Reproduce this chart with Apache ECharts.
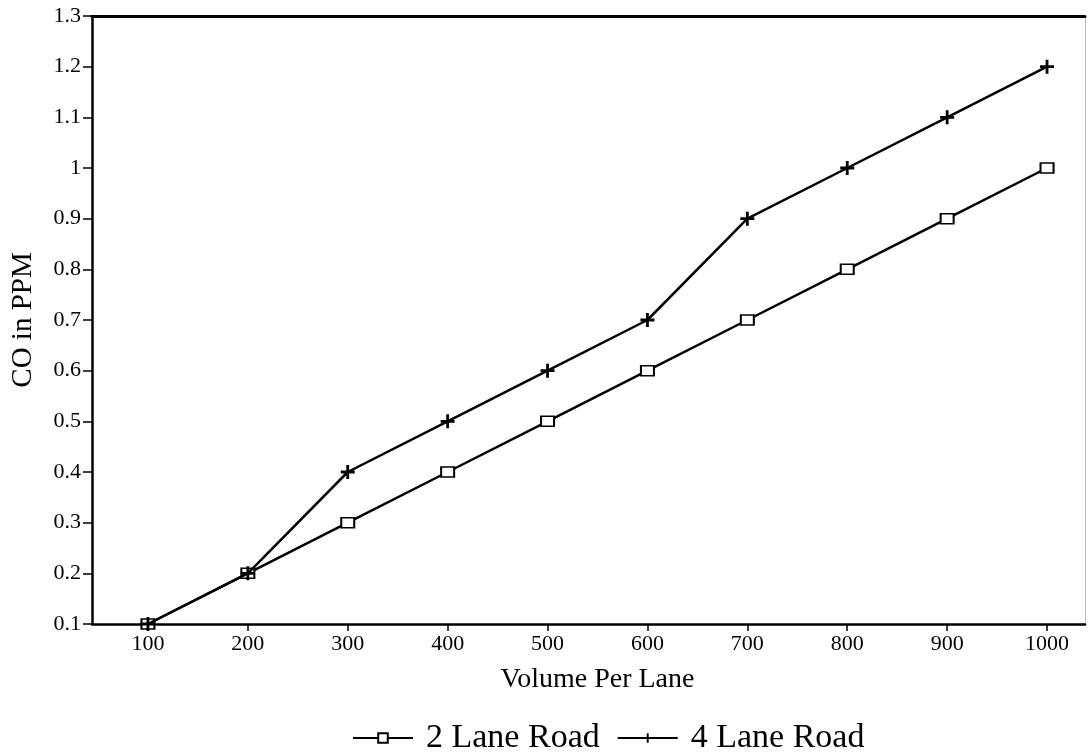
<!DOCTYPE html>
<html>
<head>
<meta charset="utf-8">
<script src="https://cdn.jsdelivr.net/npm/echarts@6/dist/echarts.min.js"></script>
<style>html,body{margin:0;padding:0;background:#fff;}#c{width:1091px;height:752px;}</style>
</head>
<body>
<div id="c"></div>
<script>
const volumes = [100, 200, 300, 400, 500, 600, 700, 800, 900, 1000];
const twoLane = [0.1, 0.2, 0.3, 0.4, 0.5, 0.6, 0.7, 0.8, 0.9, 1.0];
const fourLane = [0.1, 0.2, 0.4, 0.5, 0.6, 0.7, 0.9, 1.0, 1.1, 1.2];
const xTicks = [100, 200, 300, 400, 500, 600, 700, 800, 900, 1000];
const seriesNames = ['2 Lane Road', '4 Lane Road'];

const serif = '"Liberation Serif", "DejaVu Serif", serif';
const plus = 'path://M4,0h2v4h4v2h-4v4h-2v-4h-4v-2h4z';

const chart = echarts.init(document.getElementById('c'));
chart.setOption({
  backgroundColor: '#fff',
  animation: false,
  grid: { left: 92, top: 16, right: 6, bottom: 128, containLabel: false, outerBoundsMode: 'none' },
  legend: {
    left: 347, top: 716,
    itemWidth: 60, itemHeight: 12, itemGap: 17,
    lineStyle: { width: 2 },
    textStyle: { fontFamily: serif, fontSize: 34, color: '#000', padding: [0, 0, 0, 8] },
    data: seriesNames
  },
  xAxis: [{
    type: 'value', min: 44, max: 1038,
    splitLine: { show: false },
    axisLine: { lineStyle: { color: '#000', width: 2.5 } },
    axisTick: { show: true, length: 7, lineStyle: { color: '#000', width: 1.5 }, customValues: xTicks },
    axisLabel: { customValues: xTicks, color: '#000', fontFamily: serif, fontSize: 22, margin: 9,
      formatter: v => String(v) },
    name: 'Volume Per Lane', nameLocation: 'middle', nameGap: 42,
    nameTextStyle: { fontFamily: serif, fontSize: 28, color: '#000', padding: [0, 0, 0, 18] }
  }, {
    type: 'value', min: 44, max: 1038, position: 'top',
    axisLine: { show: true, lineStyle: { color: '#000', width: 3 } },
    axisTick: { show: false }, axisLabel: { show: false }, splitLine: { show: false }
  }],
  yAxis: [{
    type: 'value', min: 0.1, max: 1.3, interval: 0.1,
    splitLine: { show: false },
    axisLine: { show: true, lineStyle: { color: '#000', width: 2.5 } },
    axisTick: { show: true, length: 9, lineStyle: { color: '#000', width: 1.5 } },
    axisLabel: { color: '#000', fontFamily: serif, fontSize: 22, margin: 11,
      formatter: v => String(Math.round(v * 10) / 10) },
    name: 'CO in PPM', nameLocation: 'middle', nameGap: 54, nameRotate: 90,
    nameTextStyle: { fontFamily: serif, fontSize: 29, color: '#000' }
  }, {
    type: 'value', min: 0.1, max: 1.3, position: 'right',
    axisLine: { show: true, lineStyle: { color: '#bbb', width: 1 } },
    axisTick: { show: false }, axisLabel: { show: false }, splitLine: { show: false }
  }],
  series: [{
    name: seriesNames[0], type: 'line',
    data: volumes.map((v, i) => [v, twoLane[i]]),
    symbol: 'rect', symbolSize: [13, 10],
    lineStyle: { color: '#000', width: 2.5 },
    itemStyle: { color: '#fff', borderColor: '#000', borderWidth: 1.8 },
    z: 3
  }, {
    name: seriesNames[1], type: 'line',
    data: volumes.map((v, i) => [v, fourLane[i]]),
    symbol: plus, symbolSize: 14,
    lineStyle: { color: '#000', width: 2.5 },
    itemStyle: { color: '#000' },
    z: 4
  }]
});
</script>
</body>
</html>
